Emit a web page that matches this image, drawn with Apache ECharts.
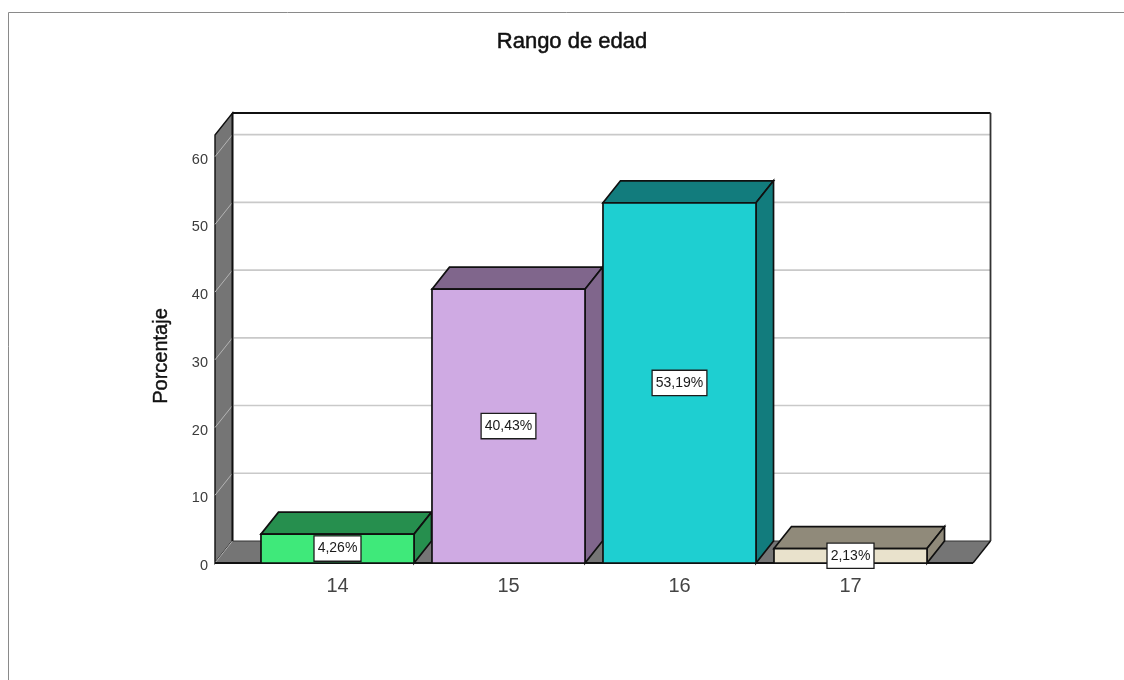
<!DOCTYPE html>
<html>
<head>
<meta charset="utf-8">
<script src="https://cdn.jsdelivr.net/npm/echarts@6/dist/echarts.min.js"></script>
<style>
html,body{margin:0;padding:0;background:#fff}
#chart{width:1124px;height:680px}
</style>
</head>
<body>
<div id="chart"></div>
<script>
// Age ranges and their share of respondents
const categories = ['14', '15', '16', '17'];
const percentages = [4.26, 40.43, 53.19, 2.13];
const valueLabels = ['4,26%', '40,43%', '53,19%', '2,13%'];
const yTicks = [0, 10, 20, 30, 40, 50, 60];

// Front face and shaded face of each bar
const frontColors = ['#3fe97a', '#cfaae3', '#1ecfd1', '#e9e2cc'];
const shadeColors = ['#268f4e', '#80668c', '#127c7d', '#908a7a'];

const DEPTH_X = 17.5;   // horizontal shift of the 3D depth
const DEPTH_Y = 22;     // vertical shift of the 3D depth
const BAR_RATIO = 0.895;
const SIDE_PAD = 0.2164; // floor overhang past the outer bands, in bands
const AXIS_TOP = 63.2;
const EDGE = '#101010';
const FONT = '"Liberation Sans", Arial, sans-serif';

const poly = (points, fill, stroke, lineWidth) => ({
  type: 'polygon',
  shape: { points },
  style: { fill, stroke: stroke || null, lineWidth: lineWidth === undefined ? 1.7 : lineWidth }
});
const line = (x1, y1, x2, y2, stroke, lineWidth) => ({
  type: 'line',
  shape: { x1, y1, x2, y2 },
  style: { stroke, lineWidth }
});

// Back wall, side wall, floor and gridlines of the 3D box
function renderBox(params, api) {
  const band = api.size([1, 0])[0];
  const left = api.coord([0, 0])[0] - band / 2 - band * SIDE_PAD;
  const right = api.coord([categories.length - 1, 0])[0] + band / 2 + band * SIDE_PAD;
  const floor = api.coord([0, 0])[1];
  const top = api.coord([0, AXIS_TOP])[1];
  const dx = DEPTH_X, dy = DEPTH_Y;
  const children = [
    poly([[left + dx, top - dy], [right + dx, top - dy], [right + dx, floor - dy], [left + dx, floor - dy]], '#ffffff', null, 0),
    poly([[left, top], [left + dx, top - dy], [left + dx, floor - dy], [left, floor]], '#757575', EDGE, 1.4),
    poly([[left, floor], [left + dx, floor - dy], [right + dx, floor - dy], [right, floor]], '#757575', null, 0)
  ];
  yTicks.forEach(t => {
    const y = api.coord([0, t])[1];
    if (t > 0) {
      children.push(line(left + dx, y - dy, right + dx, y - dy, '#c9c9c9', 1.6));
    }
    children.push(line(left, y, left + dx, y - dy, '#b4b4b4', 1));
  });
  children.push(
    line(left + dx, top - dy, right + dx, top - dy, EDGE, 1.8),
    line(left + dx, top - dy, left + dx, floor - dy, EDGE, 1.8),
    line(right + dx, top - dy, right + dx, floor - dy, '#333333', 1.8),
    line(left + dx, floor - dy, right + dx, floor - dy, '#333333', 1),
    line(right, floor, right + dx, floor - dy, EDGE, 1.4),
    line(left, floor, right, floor, EDGE, 2)
  );
  return { type: 'group', children };
}

// One bar: shaded top and side, then the front face
function renderBar(params, api) {
  const i = api.value(0);
  const [cx, yTop] = api.coord([i, api.value(1)]);
  const yBase = api.coord([i, 0])[1];
  const w = api.size([1, 0])[0] * BAR_RATIO;
  const x0 = cx - w / 2, x1 = cx + w / 2;
  const dx = DEPTH_X, dy = DEPTH_Y;
  return {
    type: 'group',
    children: [
      poly([[x0, yTop], [x0 + dx, yTop - dy], [x1 + dx, yTop - dy], [x1, yTop]], shadeColors[i], EDGE),
      poly([[x1, yTop], [x1 + dx, yTop - dy], [x1 + dx, yBase - dy], [x1, yBase]], shadeColors[i], EDGE),
      poly([[x0, yTop], [x1, yTop], [x1, yBase], [x0, yBase]], frontColors[i], EDGE)
    ]
  };
}

// Boxed percentage label centred on the bar's front face
function renderValueLabel(params, api) {
  const i = api.value(0);
  const [cx, cy] = api.coord([i, api.value(1) / 2]);
  return {
    type: 'text',
    x: cx,
    y: cy,
    style: {
      text: valueLabels[i],
      align: 'center',
      verticalAlign: 'middle',
      fontFamily: FONT,
      fontSize: 14,
      fill: '#1a1a1a',
      backgroundColor: '#ffffff',
      borderColor: '#1c1c1c',
      borderWidth: 1.3,
      padding: [5, 3, 5, 3]
    }
  };
}

const rows = percentages.map((v, i) => [i, v]);
const chart = echarts.init(document.getElementById('chart'), null, { renderer: 'canvas' });

chart.setOption({
  animation: false,
  backgroundColor: '#ffffff',
  title: {
    text: 'Rango de edad',
    left: 567,
    top: 26,
    textAlign: 'center',
    textStyle: {
      fontFamily: FONT, fontSize: 22, fontWeight: 'normal', color: '#111111',
      textBorderColor: '#111111', textBorderWidth: 0.5
    }
  },
  graphic: [
    { type: 'line', shape: { x1: 8.5, y1: 12.5, x2: 1124, y2: 12.5 }, style: { stroke: '#8a8a8a', lineWidth: 1 } },
    { type: 'line', shape: { x1: 8.5, y1: 12.5, x2: 8.5, y2: 680 }, style: { stroke: '#8a8a8a', lineWidth: 1 } }
  ],
  grid: { left: 252, width: 684, top: 135, height: 428 },
  xAxis: {
    type: 'category',
    data: categories,
    axisLine: { show: false },
    axisTick: { show: false },
    axisLabel: { margin: 13, fontSize: 20, color: '#444444', fontFamily: FONT }
  },
  yAxis: {
    type: 'value',
    min: 0,
    max: AXIS_TOP,
    interval: 10,
    offset: 37,
    name: 'Porcentaje',
    nameLocation: 'middle',
    nameGap: 44,
    nameTextStyle: {
      fontFamily: FONT, fontSize: 20, color: '#111111',
      textBorderColor: '#111111', textBorderWidth: 0.4,
      padding: [0, 14, 0, 0]
    },
    axisLine: { show: false },
    axisTick: { show: false },
    splitLine: { show: false },
    axisLabel: {
      margin: 7,
      fontSize: 14.5,
      color: '#3c3c3c',
      fontFamily: FONT,
      verticalAlign: 'top',
      lineHeight: 6,
      showMaxLabel: false
    }
  },
  series: [
    { type: 'custom', name: 'Caja', z: 1, silent: true, clip: false, renderItem: renderBox, data: [[0, 0]], encode: { x: 0, y: 1 } },
    { type: 'custom', name: 'Porcentaje', z: 2, silent: true, clip: false, renderItem: renderBar, data: rows, encode: { x: 0, y: 1 } },
    { type: 'custom', name: 'Etiquetas', z: 3, silent: true, clip: false, renderItem: renderValueLabel, data: rows, encode: { x: 0, y: 1 } }
  ]
});
</script>
</body>
</html>
